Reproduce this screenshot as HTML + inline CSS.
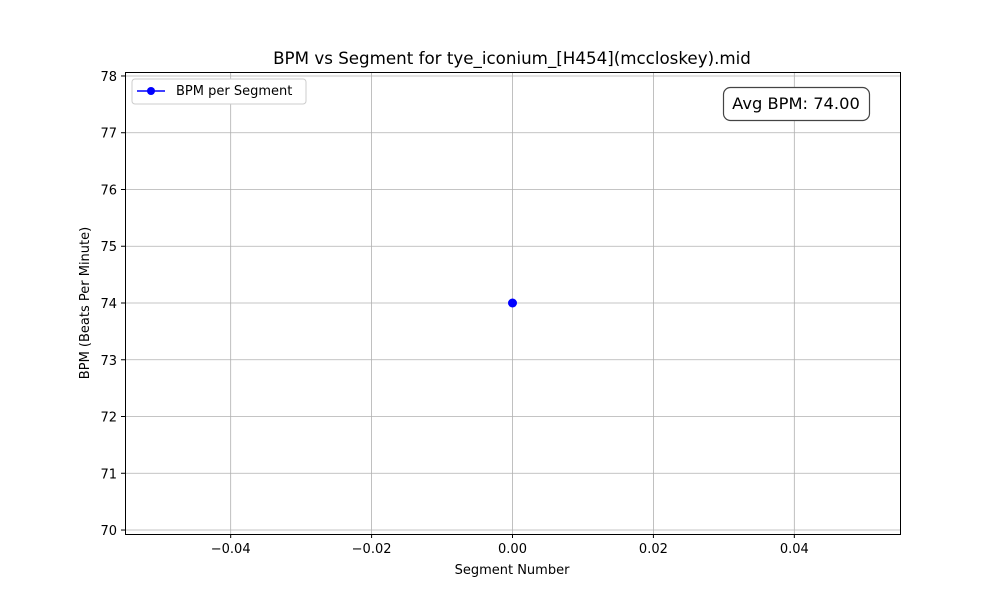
<!DOCTYPE html>
<html><head><meta charset="utf-8"><style>
body{margin:0;background:#fff;font-family:"Liberation Sans","DejaVu Sans",sans-serif;}
</style></head><body>
<svg id="chart" width="1000" height="600" xmlns="http://www.w3.org/2000/svg" font-family="DejaVu Sans, Liberation Sans, sans-serif">
<rect width="1000" height="600" fill="#fff"/>
<text x="512" y="64" font-size="16.7" text-anchor="middle">BPM vs Segment for tye_iconium_[H454](mccloskey).mid</text>
<g id="grid"></g><g id="ticks"></g><g id="marks"></g>
<rect x="125.5" y="72.5" width="775" height="462" fill="none" stroke="#000" stroke-width="1"/>
<text x="512" y="574" font-size="13" text-anchor="middle">Segment Number</text>
<text transform="translate(89,303) rotate(-90)" font-size="13" text-anchor="middle">BPM (Beats Per Minute)</text>
<g>
<rect x="132" y="79" width="174" height="25" rx="3" fill="#fff" stroke="#ccc"/>
<line x1="137" y1="91" x2="165" y2="91" stroke="#0000ff" stroke-width="1.5"/>
<circle cx="151" cy="91" r="4" fill="#0000ff"/>
<text x="176" y="95" font-size="13">BPM per Segment</text>
</g>
<g>
<rect x="723.5" y="87.5" width="146" height="33" rx="7" fill="#fff" stroke="#444" stroke-width="1.2"/>
<text x="796" y="109" font-size="16.3" text-anchor="middle">Avg BPM: 74.00</text>
</g>
</svg>
<script>
const segments=[0];
const bpmValues=[74];
const xTicks=[-0.04,-0.02,0,0.02,0.04];
const xTickLabels=["\u22120.04","\u22120.02","0.00","0.02","0.04"];
const yTicks=[70,71,72,73,74,75,76,77,78];
const NS="http://www.w3.org/2000/svg";
const L=125,R=900,T=72,B=534,xmin=-0.055,xmax=0.055,ymin=69.93,ymax=78.07;
const sx=v=>L+(v-xmin)/(xmax-xmin)*(R-L);
const sy=v=>B-(v-ymin)/(ymax-ymin)*(B-T);
function mk(tag,attrs,parent){const e=document.createElementNS(NS,tag);for(const k in attrs)e.setAttribute(k,attrs[k]);document.getElementById(parent).appendChild(e);return e;}
xTicks.forEach((t,i)=>{const x=sx(t);
 const g=mk('line',{x1:x,x2:x,y1:T,y2:B,stroke:'#b0b0b0','stroke-width':0.8},'grid');
 
 
 mk('line',{x1:x,x2:x,y1:B,y2:B+4,stroke:'#000'},'ticks');
 const tx=mk('text',{x:x,y:B+19,'font-size':13,'text-anchor':'middle'},'ticks');tx.textContent=xTickLabels[i];
 
 
});
yTicks.forEach(t=>{const y=sy(t);
 const g=mk('line',{x1:L,x2:R,y1:y,y2:y,stroke:'#b0b0b0','stroke-width':0.8},'grid');
 
 
 mk('line',{x1:L-4,x2:L,y1:y,y2:y,stroke:'#000'},'ticks');
 const tx=mk('text',{x:L-8,y:y+5,'font-size':13,'text-anchor':'end'},'ticks');tx.textContent=String(t);
 
 
});
if(segments.length>1){const p=mk('polyline',{points:segments.map((s,i)=>sx(s)+','+sy(bpmValues[i])).join(' '),fill:'none',stroke:'#0000ff','stroke-width':1.5},'marks');
 
 }
segments.forEach((s,i)=>{const c=mk('circle',{cx:sx(s),cy:sy(bpmValues[i]),r:4.5,fill:'#0000ff'},'marks');
 
 
});
</script>
</body></html>
